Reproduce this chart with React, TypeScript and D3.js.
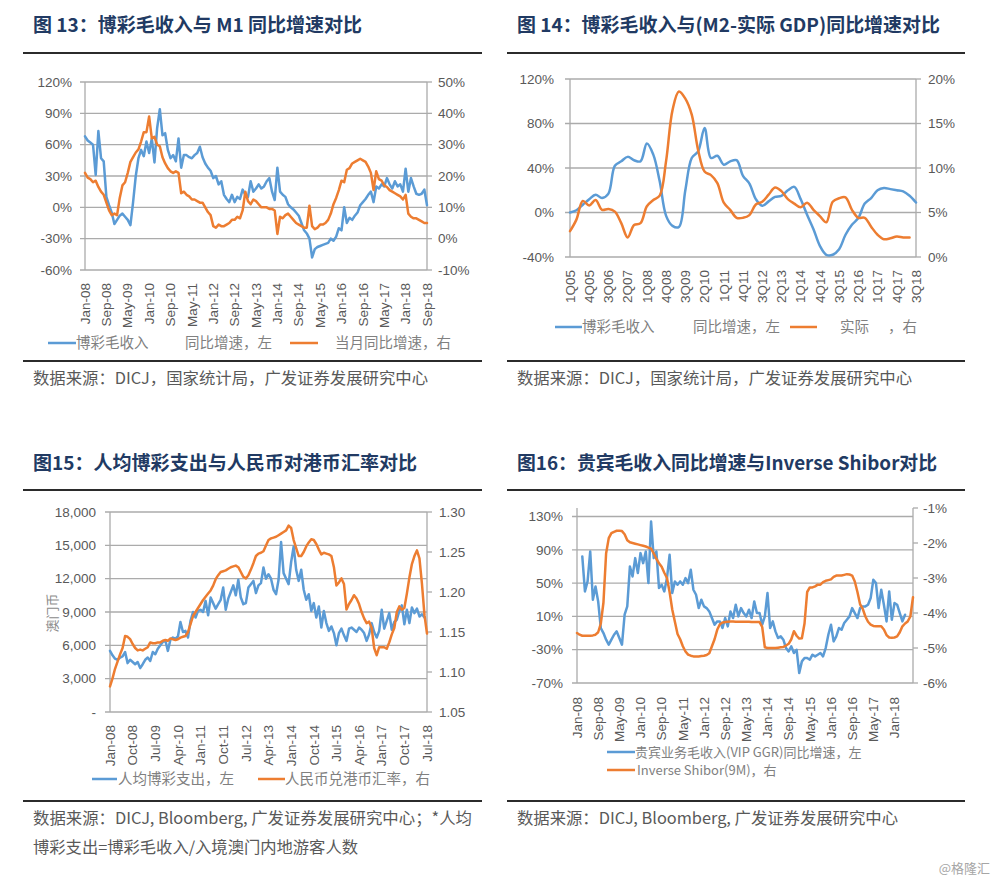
import * as d3 from 'd3'

const BLUE = '#5b9bd5'
const ORANGE = '#ed7d31'
const GRID = '#ababab'
const TICK = '#595959'
const NAVY = '#213a63'
const LEG = '#808080'
const SANS = '"Liberation Sans", Arial, sans-serif'
const CJK = '"Noto Sans CJK SC", "Noto Sans", sans-serif'

// 图13: 博彩毛收入同比 (左, %) 与 M1 当月同比 (右, %), Jan-08 .. Sep-18
const ggrYoy13 = [
  68, 64, 62, 60, 31, 73, 47, 44, 10, 2,
  -5, -16, -12, -8, -6, -9, -12, -17, 5, 30,
  47, 55, 49, 63, 52, 66, 43, 76, 94, 69,
  71, 55, 47, 50, 44, 66, 38, 50, 50, 48,
  47, 50, 52, 58, 48, 42, 38, 35, 28, 30,
  22, 25, 12, 8, 5, 12, 5, 10, 8, 17,
  12, 10, 25, 15, 18, 22, 18, 20, 25, 28,
  15, 7, 38, 15, 12, 10, 3, 0, -2, -5,
  -8, -15, -22, -25, -30, -48, -40, -38, -37, -36,
  -35, -34, -30, -32, -28, -20, -22, 0, -15, -10,
  -12, -8, -5, 2, 5, 8, 12, 15, 5, 20,
  18, 22, 20, 28, 22, 18, 25, 20, 22, 15,
  37, 15, 28, 20, 13, 12, 13, 17, 2,
]
const m1Yoy13 = [
  21, 19.5, 19, 18, 18.5, 16.5, 15, 14, 11.5, 9,
  7.5, 8, 7.5, 13, 17, 18, 21, 24.5, 26, 27.5,
  28.5, 31, 34, 34, 39, 32, 32.5, 30, 29.5, 26,
  24, 22.5, 21.5, 21, 21.5, 21, 14.5, 15, 14, 13.5,
  12.5, 12.5, 12, 11.5, 11.5, 10, 8.5, 7.5, 4, 3.5,
  4.5, 4, 4, 4.5, 5, 6, 6, 7, 6.5, 9,
  15, 12, 11, 12.5, 12, 11, 10, 10, 10, 9.5,
  9.5, 9, 1.5, 7, 6.5, 7.5, 8, 7, 6, 5,
  4.5, 4, 3.5, 3.5, 10.5, 4, 3, 3.5, 4.5, 4.5,
  5, 6, 8, 11, 13, 15.5, 18.5, 18, 22, 22.5,
  24, 24.5, 25, 25.5, 25, 24.5, 23, 21, 15.5, 21.5,
  19, 18.5, 17, 16.5, 15.5, 15, 14.5, 14, 13.5, 12.5,
  14, 8, 7, 6.5, 6.5, 6, 5.5, 5, 5,
]
const xTicks13 = ['Jan-08', 'Sep-08', 'May-09', 'Jan-10', 'Sep-10', 'May-11', 'Jan-12', 'Sep-12', 'May-13',
  'Jan-14', 'Sep-14', 'May-15', 'Jan-16', 'Sep-16', 'May-17', 'Jan-18', 'Sep-18']
const left13 = [120, 90, 60, 30, 0, -30, -60]
const right13 = [50, 40, 30, 20, 10, 0, -10]

// 图14: 季度, 1Q05 .. 3Q18
const ggrYoy14 = [
  0, 2, 7, 12, 16, 13, 17, 42, 46, 50,
  47, 46, 62, 52, 28, -3, -12, -13, 20, 49,
  55, 76, 49, 51, 43, 46, 47, 33, 26, 12,
  6, 10, 14, 15, 20, 23, 12, -2, -15, -30,
  -38, -38, -33, -20, -11, -5, 8, 13, 20, 22,
  21, 20, 19, 15, 9,
]
const m2GdpGap14 = [
  2.9, 4.2, 6.3, 5.8, 6.4, 5.3, 5.4, 5.1, 3.8, 2.2,
  3.6, 3.8, 5.7, 6.4, 6.9, 10.8, 16.5, 18.6, 17.8, 16.0,
  12.0, 9.6, 9.2, 8.3, 6.1, 5.3, 4.4, 4.4, 4.7, 5.9,
  6.2, 7.0, 7.8, 7.4, 6.5, 6.0, 5.6, 6.1, 5.3, 4.6,
  3.9, 6.2, 6.6, 6.7, 5.3, 4.4, 4.4, 3.4, 2.5, 2.0,
  2.1, 2.3, 2.2, 2.2,
]
const xTicks14 = ['1Q05', '4Q05', '3Q06', '2Q07', '1Q08', '4Q08', '3Q09', '2Q10', '1Q11', '4Q11',
  '3Q12', '2Q13', '1Q14', '4Q14', '3Q15', '2Q16', '1Q17', '4Q17', '3Q18']
const left14 = [120, 80, 40, 0, -40]
const right14 = [20, 15, 10, 5, 0]

// 图15: Jan-08 .. Jul-18
const spendPerVisitor15 = [
  5500, 5100, 4800, 4700, 4900, 5000, 5400, 4400, 4700, 4500,
  4300, 4500, 3950, 4300, 4700, 4900, 4600, 5400, 5200, 5700,
  6000, 6300, 6450, 5500, 6500, 6700, 6600, 6800, 8100, 7200,
  7300, 6700, 8200, 9000, 8500, 9100, 9200, 9000, 10000, 8700,
  10300, 9800, 9300, 9700, 10100, 11200, 9200, 10200, 10800, 11400,
  10500, 11900, 10300, 9700, 9800, 11200, 11500, 11800, 10700, 11400,
  11600, 13000, 12000, 12400, 12000, 11000, 10600, 11900, 15300, 12500,
  12000, 11500, 13500, 14900, 12800, 11800, 12800, 11000, 10100, 10600,
  9100, 9800, 8500, 9500, 7600, 9100, 8000, 7300, 7700, 7100,
  6000, 7100, 7500, 6900, 6400, 7500, 7600, 7400, 7200, 7600,
  7400, 7100, 6400, 7000, 8000, 7200, 6700, 7300, 9200, 7500,
  8200, 8900, 7400, 8100, 8300, 9100, 9600, 7900, 9200, 8000,
  9400, 8900, 9300, 8600, 8800, 8500,
]
const cnyHkd15 = [
  1.082, 1.092, 1.104, 1.113, 1.122, 1.130, 1.145, 1.144, 1.141, 1.135,
  1.130, 1.127, 1.128, 1.127, 1.129, 1.131, 1.137, 1.136, 1.136, 1.137,
  1.137, 1.139, 1.140, 1.139, 1.142, 1.141, 1.140, 1.141, 1.143, 1.144,
  1.145, 1.150, 1.160, 1.170, 1.175, 1.180, 1.185, 1.190, 1.194, 1.198,
  1.202, 1.208, 1.216, 1.221, 1.225, 1.226, 1.227, 1.229, 1.231, 1.232,
  1.233, 1.231, 1.225, 1.219, 1.217, 1.221, 1.228, 1.236, 1.245, 1.248,
  1.249, 1.251, 1.258, 1.265, 1.267, 1.268, 1.269, 1.271, 1.273, 1.275,
  1.277, 1.283, 1.280, 1.265, 1.255, 1.245, 1.245, 1.250, 1.257, 1.262,
  1.266, 1.265, 1.260, 1.253, 1.247, 1.249, 1.248, 1.247, 1.245, 1.231,
  1.208, 1.212, 1.217, 1.210, 1.178, 1.185, 1.190, 1.196, 1.192, 1.185,
  1.175, 1.167, 1.161, 1.163, 1.155, 1.130, 1.121, 1.131, 1.131, 1.131,
  1.129, 1.137, 1.147, 1.155, 1.175, 1.182, 1.178, 1.180, 1.198, 1.218,
  1.235, 1.245, 1.252, 1.242, 1.210, 1.171, 1.148,
]
const xTicks15 = ['Jan-08', 'Oct-08', 'Jul-09', 'Apr-10', 'Jan-11', 'Oct-11', 'Jul-12', 'Apr-13', 'Jan-14',
  'Oct-14', 'Jul-15', 'Apr-16', 'Jan-17', 'Oct-17', 'Jul-18']
const left15 = [18000, 15000, 12000, 9000, 6000, 3000, 0]
const right15 = [1.3, 1.25, 1.2, 1.15, 1.1, 1.05]

// 图16: Jan-08 .. Aug-18; VIP 从 Mar-08 开始
const vipYoy16 = [
  82, 40, 52, 88, 30, 46, 28, -4, -10, -18,
  -24, -18, -12, -8, -16, -24, 12, 22, 70, 58,
  80, 62, 86, 74, 88, 50, 124, 80, 88, 44,
  48, 40, 56, 84, 38, 52, 48, 52, 48, 56,
  50, 66, 42, 36, 20, 30, 22, 20, 16, 8,
  0, 4, 4, -4, 8, -2, 16, 8, 24, 10,
  20, 14, 10, 18, 8, 28, 14, 14, 0, 10,
  38, -4, 4, -8, -16, -14, -18, -28, -32, -26,
  -34, -30, -58, -44, -40, -40, -42, -36, -38, -36,
  -34, -38, -28, -12, 0, -20, -14, -4, -6, 2,
  6, 10, 20, 14, 8, 20, 22, 22, 24, 32,
  54, 50, 20, 42, 24, 4, 40, 6, 26, 24,
  14, 4, 12,
]
const inverseShibor16 = [
  -4.57, -4.62, -4.65, -4.65, -4.65, -4.65, -4.64, -4.62, -4.55, -4.3,
  -3.7, -2.3, -1.86, -1.72, -1.68, -1.65, -1.65, -1.66, -1.75, -1.92,
  -1.98, -2.0, -2.02, -2.04, -2.06, -2.08, -2.1, -2.13, -2.16, -2.3,
  -2.45, -2.58, -2.68, -2.85, -3.0, -3.4, -3.9, -4.25, -4.6, -4.75,
  -4.95, -5.1, -5.19, -5.22, -5.24, -5.24, -5.24, -5.23, -5.22, -5.2,
  -5.15, -4.95, -4.75, -4.48, -4.32, -4.27, -4.26, -4.25, -4.24, -4.24,
  -4.25, -4.25, -4.25, -4.25, -4.25, -4.25, -4.26, -4.26, -4.26, -4.26,
  -4.4, -4.98, -5.0, -5.0, -5.0, -5.0, -4.99, -4.98, -4.97, -4.93,
  -4.88, -4.75, -4.52, -4.65, -4.73, -4.72, -4.3, -3.4, -3.27, -3.27,
  -3.24, -3.19, -3.19, -3.12, -3.08, -3.06, -3.04, -2.97, -2.93, -2.93,
  -2.93, -2.91, -2.89, -2.9, -2.93, -3.1, -3.4, -3.75, -3.88, -4.1,
  -4.25, -4.33, -4.37, -4.38, -4.38, -4.38, -4.47, -4.63, -4.7, -4.71,
  -4.7, -4.67, -4.55, -4.38, -4.3, -4.24, -4.1, -3.55,
]
const xTicks16 = ['Jan-08', 'Sep-08', 'May-09', 'Jan-10', 'Sep-10', 'May-11', 'Jan-12', 'Sep-12', 'May-13',
  'Jan-14', 'Sep-14', 'May-15', 'Jan-16', 'Sep-16', 'May-17', 'Jan-18']
const left16 = [130, 90, 50, 10, -30, -70]
const right16 = [-1, -2, -3, -4, -5, -6]

const MONTHS = ['Jan', 'Feb', 'Mar', 'Apr', 'May', 'Jun', 'Jul', 'Aug', 'Sep', 'Oct', 'Nov', 'Dec']
const monthIdx = (s: string) => (Number(s.slice(4)) - 8) * 12 + MONTHS.indexOf(s.slice(0, 3))
const quarterIdx = (s: string) => (Number(s.slice(2)) - 5) * 4 + Number(s[0]) - 1
const pct = (v: number) => `${v}%`

type Series = { values: number[]; start: number; right?: boolean; color: string }

type PanelProps = {
  l: number; r: number; t: number; b: number
  n: number
  yL: d3.ScaleLinear<number, number>
  yR: d3.ScaleLinear<number, number>
  lTicks: number[]; lFmt: (v: number) => string; lX: number
  rTicks: number[]; rFmt: (v: number) => string; rX: number
  xTicks: string[]; xIdx: (s: string) => number; xY: number
  lines: Series[]
  smooth?: boolean
}

function Panel(p: PanelProps) {
  const x = d3.scaleLinear().domain([0, p.n - 1]).range([p.l, p.r])
  const curve = p.smooth ? d3.curveCatmullRom.alpha(0.5) : d3.curveLinear
  const path = (s: Series) => {
    const y = s.right ? p.yR : p.yL
    return d3.line<number>()
      .x((_, i) => x(s.start + i))
      .y(d => y(d))
      .curve(curve)(s.values) ?? ''
  }
  return (
    <g>
      {p.lTicks.map(v => (
        <line key={'g' + v} x1={p.l - 5} x2={p.r} y1={p.yL(v)} y2={p.yL(v)} stroke={GRID} strokeWidth={1.3} />
      ))}
      <line x1={p.l} x2={p.l} y1={p.t} y2={p.b} stroke={GRID} strokeWidth={1.3} />
      <line x1={p.r} x2={p.r} y1={p.t} y2={p.b} stroke={GRID} strokeWidth={1.3} />
      {p.rTicks.map(v => (
        <line key={'r' + v} x1={p.r} x2={p.r + 5} y1={p.yR(v)} y2={p.yR(v)} stroke={GRID} strokeWidth={1.3} />
      ))}
      <g fontFamily={SANS} fontSize={13.5} fill={TICK} style={{ whiteSpace: 'pre' }}>
        {p.lTicks.map(v => (
          <text key={'lt' + v} x={p.lX} y={p.yL(v)} dy="0.35em" textAnchor="end">{p.lFmt(v)}</text>
        ))}
        {p.rTicks.map(v => (
          <text key={'rt' + v} x={p.rX} y={p.yR(v)} dy="0.35em" textAnchor="start">{p.rFmt(v)}</text>
        ))}
        {p.xTicks.map(s => (
          <text key={'xt' + s} transform={`translate(${x(p.xIdx(s))},${p.xY}) rotate(-90)`} dy="0.35em" textAnchor="end">{s}</text>
        ))}
      </g>
      {p.lines.map((s, i) => (
        <path key={'s' + i} d={path(s)} fill="none" stroke={s.color} strokeWidth={2.5} strokeLinejoin="round" strokeLinecap="round" />
      ))}
    </g>
  )
}

function Rule({ x1, x2, y }: { x1: number; x2: number; y: number }) {
  return <line x1={x1} x2={x2} y1={y} y2={y} stroke="#2b2b2b" strokeWidth={2} />
}

function Title({ x, y, w, children }: { x: number; y: number; w: number; children: string }) {
  return (
    <text x={x} y={y} dy="0.35em" fontFamily={CJK} fontWeight={700} fontSize={19} fill={NAVY}
      textLength={w} lengthAdjust="spacingAndGlyphs">{children}</text>
  )
}

function Source({ x, y, w, children }: { x: number; y: number; w: number; children: string }) {
  return (
    <text x={x} y={y} dy="0.35em" fontFamily={CJK} fontSize={16} fill={TICK}
      textLength={w} lengthAdjust="spacingAndGlyphs">{children}</text>
  )
}

function LegLine({ x1, x2, y, color }: { x1: number; x2: number; y: number; color: string }) {
  return <line x1={x1} x2={x2} y1={y} y2={y} stroke={color} strokeWidth={2.5} />
}

function Leg({ x, y, size = 14.5, children }: { x: number; y: number; size?: number; children: string }) {
  return <text x={x} y={y} dy="0.35em" fontFamily={CJK} fontSize={size} fill={LEG}>{children}</text>
}

export default function App() {
  const y13L = d3.scaleLinear().domain([-60, 120]).range([270, 82])
  const y13R = d3.scaleLinear().domain([-10, 50]).range([270, 82])
  const y14L = d3.scaleLinear().domain([-40, 120]).range([257, 79])
  const y14R = d3.scaleLinear().domain([0, 20]).range([257, 79])
  const y15L = d3.scaleLinear().domain([0, 18000]).range([712, 512])
  const y15R = d3.scaleLinear().domain([1.05, 1.3]).range([712, 512])
  const y16L = d3.scaleLinear().domain([-70, 130]).range([683, 516.5])
  const y16R = d3.scaleLinear().domain([-6, -1]).range([683, 508])

  return (
    <svg width={1000} height={882} style={{ position: 'absolute', left: 0, top: 0, display: 'block' }}>
      <rect width={1000} height={882} fill="#ffffff" />

      {/* 图13 */}
      <Title x={33} y={25} w={329}>图 13：博彩毛收入与 M1 同比增速对比</Title>
      <Rule x1={23} x2={482} y={53} />
      <Panel l={85} r={427} t={82} b={270} n={ggrYoy13.length}
        yL={y13L} yR={y13R}
        lTicks={left13} lFmt={pct} lX={72}
        rTicks={right13} rFmt={pct} rX={438}
        xTicks={xTicks13} xIdx={monthIdx} xY={283}
        lines={[
          { values: ggrYoy13, start: 0, color: BLUE },
          { values: m1Yoy13, start: 0, right: true, color: ORANGE },
        ]} />
      <LegLine x1={48} x2={76} y={343} color={BLUE} />
      <Leg x={76} y={343}>博彩毛收入</Leg>
      <Leg x={185} y={343}>同比增速，左</Leg>
      <LegLine x1={290} x2={318} y={343} color={ORANGE} />
      <Leg x={335} y={343}>当月同比增速，右</Leg>
      <Rule x1={23} x2={482} y={361} />
      <Source x={33} y={378} w={395}>数据来源：DICJ，国家统计局，广发证券发展研究中心</Source>

      {/* 图14 */}
      <Title x={517} y={25} w={423}>图 14：博彩毛收入与(M2-实际 GDP)同比增速对比</Title>
      <Rule x1={507} x2={965} y={53} />
      <Panel l={570} r={916} t={79} b={257} n={ggrYoy14.length}
        yL={y14L} yR={y14R}
        lTicks={left14} lFmt={pct} lX={554}
        rTicks={right14} rFmt={pct} rX={928}
        xTicks={xTicks14} xIdx={quarterIdx} xY={270}
        smooth
        lines={[
          { values: ggrYoy14, start: 0, color: BLUE },
          { values: m2GdpGap14, start: 0, right: true, color: ORANGE },
        ]} />
      <LegLine x1={555} x2={582} y={327} color={BLUE} />
      <Leg x={582} y={327}>博彩毛收入</Leg>
      <Leg x={693} y={327}>同比增速，左</Leg>
      <LegLine x1={790} x2={817} y={327} color={ORANGE} />
      <Leg x={840} y={327}>实际</Leg>
      <Leg x={888} y={327}>，右</Leg>
      <Rule x1={507} x2={965} y={361} />
      <Source x={517} y={378} w={395}>数据来源：DICJ，国家统计局，广发证券发展研究中心</Source>

      {/* 图15 */}
      <Title x={33} y={463} w={384}>图15：人均博彩支出与人民币对港币汇率对比</Title>
      <Rule x1={23} x2={482} y={490} />
      <Panel l={110} r={427} t={512} b={712} n={cnyHkd15.length}
        yL={y15L} yR={y15R}
        lTicks={left15} lFmt={v => (v === 0 ? '-  ' : d3.format(',')(v))} lX={96}
        rTicks={right15} rFmt={v => v.toFixed(2)} rX={439}
        xTicks={xTicks15} xIdx={monthIdx} xY={725}
        lines={[
          { values: spendPerVisitor15, start: 0, color: BLUE },
          { values: cnyHkd15, start: 0, right: true, color: ORANGE },
        ]} />
      <text transform="translate(52,613) rotate(-90)" dy="0.35em" textAnchor="middle"
        fontFamily={CJK} fontSize={13} fill="#8c8c8c">澳门币</text>
      <LegLine x1={92} x2={117} y={779} color={BLUE} />
      <Leg x={118} y={779}>人均博彩支出，左</Leg>
      <LegLine x1={258} x2={285} y={779} color={ORANGE} />
      <Leg x={285} y={779}>人民币兑港币汇率，右</Leg>
      <Rule x1={23} x2={482} y={801} />
      <Source x={33} y={818} w={439}>数据来源：DICJ, Bloomberg, 广发证券发展研究中心；*人均</Source>
      <Source x={33} y={847} w={325}>博彩支出=博彩毛收入/入境澳门内地游客人数</Source>

      {/* 图16 */}
      <Title x={517} y={463} w={420}>图16：贵宾毛收入同比增速与Inverse Shibor对比</Title>
      <Rule x1={507} x2={965} y={490} />
      <Panel l={577} r={913} t={508} b={683} n={inverseShibor16.length}
        yL={y16L} yR={y16R}
        lTicks={left16} lFmt={pct} lX={563}
        rTicks={right16} rFmt={pct} rX={923}
        xTicks={xTicks16} xIdx={monthIdx} xY={697}
        lines={[
          { values: vipYoy16, start: 2, color: BLUE },
          { values: inverseShibor16, start: 0, right: true, color: ORANGE },
        ]} />
      <LegLine x1={607} x2={635} y={752} color={BLUE} />
      <Leg x={635} y={752} size={13}>贵宾业务毛收入(VIP GGR)同比增速，左</Leg>
      <LegLine x1={607} x2={635} y={770} color={ORANGE} />
      <Leg x={637} y={770} size={13}>Inverse Shibor(9M)，右</Leg>
      <Rule x1={507} x2={965} y={801} />
      <Source x={517} y={818} w={381}>数据来源：DICJ, Bloomberg, 广发证券发展研究中心</Source>

      <text x={990} y={868} dy="0.35em" textAnchor="end" fontFamily={CJK} fontSize={13} fill="#a6a6a6">@格隆汇</text>
    </svg>
  )
}
